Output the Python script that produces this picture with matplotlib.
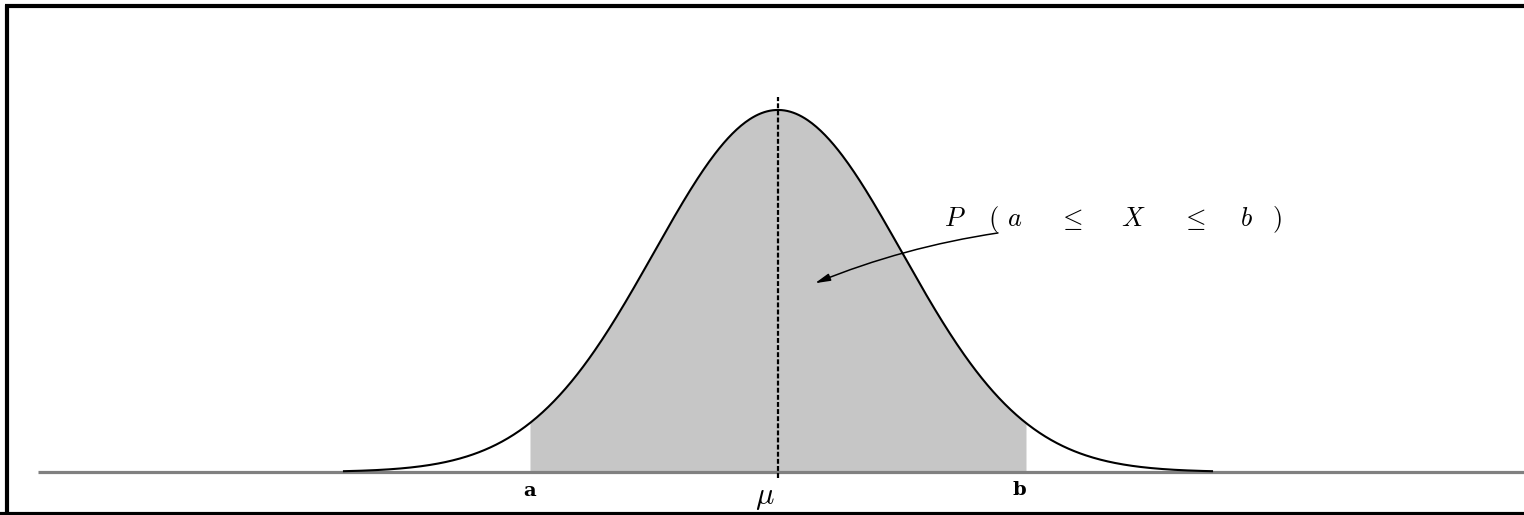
import numpy as np
import matplotlib
matplotlib.use("Agg")
import matplotlib.pyplot as plt
from matplotlib.lines import Line2D

# Normal density parameters and the shaded interval [a, b]
mu = 0.0
sigma = 1.0
a = -2.0
b = 2.0
tail_lo, tail_hi = -3.5, 3.5
tick_labels = ["a", r"$\mu$", "b"]

# pieces of the probability label and where each one sits along x
prob_pieces = [r"$P$", r"$($", r"$a$", r"$\leq$", r"$X$", r"$\leq$", r"$b$", r"$)$"]
prob_piece_x = [1.427, 1.734, 1.911, 2.355, 2.863, 3.347, 3.774, 4.024]

plt.rcParams["mathtext.fontset"] = "cm"


def density(x):
    return np.exp(-0.5 * ((x - mu) / sigma) ** 2) / (sigma * np.sqrt(2 * np.pi))


fig = plt.figure(figsize=(15.24, 5.15), dpi=100)
ax = fig.add_axes([0, 0, 1, 1])
ax.set_xlim(-6.274, 6.016)
ax.set_ylim(-0.0474, 0.5201)
ax.axis("off")

x = np.linspace(tail_lo, tail_hi, 600)
y = density(x)

# shaded probability region
xs = np.linspace(a, b, 400)
ax.fill_between(xs, 0, density(xs), color="#c6c6c6", lw=0, zorder=1)

# horizontal axis line
ax.plot([-5.97, 6.02], [0, 0], color="#808080", lw=2.3, zorder=2,
        solid_capstyle="butt")

# density curve
ax.plot(x, y, color="black", lw=1.5, zorder=3)

# mean marker
ax.plot([mu, mu], [-0.0066, density(mu) + 0.0143], color="black", lw=1.6,
        linestyle=(0, (2.2, 1.0)), zorder=4)

# labels under the axis
ax.text(a, -0.0215, tick_labels[0], ha="center", va="center",
        fontsize=14, fontweight="bold", family="DejaVu Serif")
ax.text(mu - 0.11, -0.0285, tick_labels[1], ha="center", va="center",
        fontsize=22)
ax.text(b - 0.05, -0.0195, tick_labels[2], ha="center", va="center",
        fontsize=14, fontweight="bold", family="DejaVu Serif")

# probability annotation, spread out piece by piece
for piece, px in zip(prob_pieces, prob_piece_x):
    ax.text(px, 0.2711, piece, ha="center", va="baseline", fontsize=19)
ax.annotate("", xy=(0.298, 0.208), xytext=(1.774, 0.2634),
            arrowprops=dict(arrowstyle="-|>,head_length=0.9,head_width=0.22",
                            color="black", lw=1.1, shrinkA=0, shrinkB=0,
                            connectionstyle="arc3,rad=0.06"),
            zorder=5)

# frame around the figure (top, left, bottom)
for xd, yd in [([0.0035, 1.0], [0.9878, 0.9878]),
               ([0.0048, 0.0048], [0.0, 0.99]),
               ([0.0, 1.0], [0.0029, 0.0029])]:
    fig.add_artist(Line2D(xd, yd, transform=fig.transFigure, color="black",
                          lw=3.0, solid_capstyle="butt"))

fig.savefig("out.png", dpi=100, facecolor="white")
